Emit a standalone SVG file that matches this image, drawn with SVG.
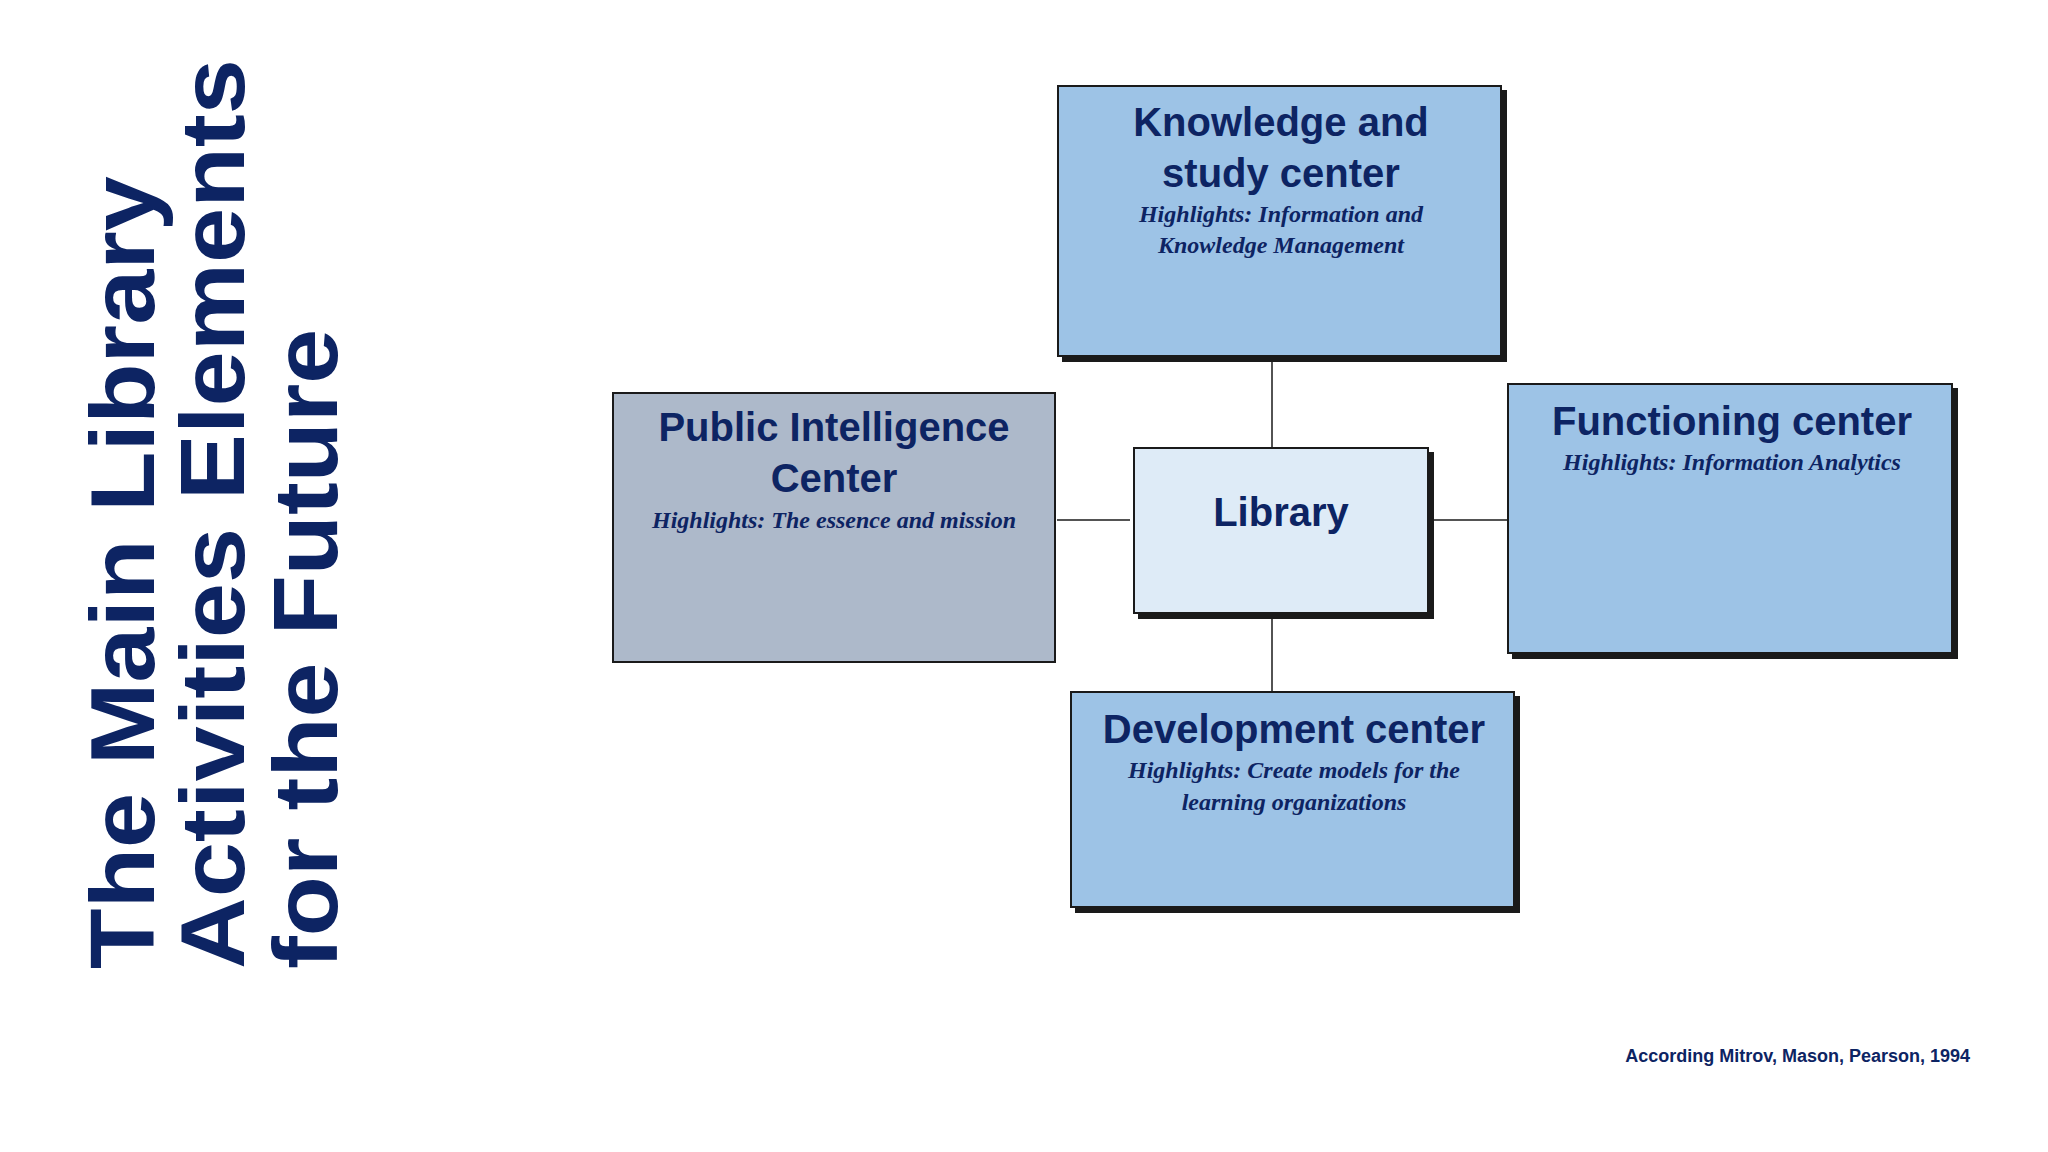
<svg xmlns="http://www.w3.org/2000/svg" width="2048" height="1152" viewBox="0 0 2048 1152">
<style>
.box{stroke:#1a1a1a;stroke-width:2}
.sh{fill:#1a1a1a}
.t{font-family:"Liberation Sans",Arial,sans-serif;font-weight:bold;fill:#0d2463;text-anchor:middle;font-size:40px}
.s{font-family:"Liberation Serif","Times New Roman",serif;font-style:italic;font-weight:bold;fill:#0d2463;text-anchor:middle;font-size:24px}
.ttl{font-family:"Liberation Sans",Arial,sans-serif;font-weight:bold;fill:#0d2463;font-size:90px}
.c{stroke:#1a1a1a;stroke-width:1.5;fill:none}
</style>
<rect width="2048" height="1152" fill="#ffffff"/>
<g id="title">
<text class="ttl" transform="translate(154,969) rotate(-90)" textLength="793" lengthAdjust="spacingAndGlyphs">The Main Library</text>
<text class="ttl" transform="translate(244,969) rotate(-90)" textLength="910" lengthAdjust="spacingAndGlyphs">Activities  Elements</text>
<text class="ttl" transform="translate(337,969) rotate(-90)" textLength="640" lengthAdjust="spacingAndGlyphs">for the Future</text>
</g>
<g id="connectors">
<line class="c" x1="1272" y1="358" x2="1272" y2="448"/>
<line class="c" x1="1272" y1="615" x2="1272" y2="692"/>
<line class="c" x1="1057" y1="520" x2="1130" y2="520"/>
<line class="c" x1="1430" y1="520" x2="1508" y2="520"/>
</g>
<g id="knowledge">
<rect class="sh" x="1062" y="90" width="445" height="272"/>
<rect class="box" x="1058" y="86" width="443" height="270" fill="#9dc3e6"/>
<text class="t" x="1281" y="136">Knowledge and</text>
<text class="t" x="1281" y="187">study center</text>
<text class="s" x="1281" y="222">Highlights: Information and</text>
<text class="s" x="1281" y="253">Knowledge Management</text>
</g>
<g id="public">
<rect class="box" x="613" y="393" width="442" height="269" fill="#adb9ca"/>
<text class="t" x="834" y="441">Public Intelligence</text>
<text class="t" x="834" y="492">Center</text>
<text class="s" x="834" y="528">Highlights: The essence and mission</text>
</g>
<g id="library">
<rect class="sh" x="1138" y="452" width="296" height="167"/>
<rect class="box" x="1134" y="448" width="294" height="165" fill="#deebf7"/>
<text class="t" x="1281" y="526">Library</text>
</g>
<g id="functioning">
<rect class="sh" x="1512" y="388" width="446" height="271"/>
<rect class="box" x="1508" y="384" width="444" height="269" fill="#9dc3e6"/>
<text class="t" x="1732" y="435">Functioning center</text>
<text class="s" x="1732" y="470">Highlights: Information Analytics</text>
</g>
<g id="development">
<rect class="sh" x="1075" y="696" width="445" height="217"/>
<rect class="box" x="1071" y="692" width="443" height="215" fill="#9dc3e6"/>
<text class="t" x="1294" y="743">Development center</text>
<text class="s" x="1294" y="778">Highlights: Create models for the</text>
<text class="s" x="1294" y="810">learning organizations</text>
</g>
<text x="1970" y="1062" text-anchor="end" font-family="Liberation Sans,Arial,sans-serif" font-weight="bold" font-size="18" fill="#0d2463">According Mitrov, Mason, Pearson, 1994</text>
</svg>
